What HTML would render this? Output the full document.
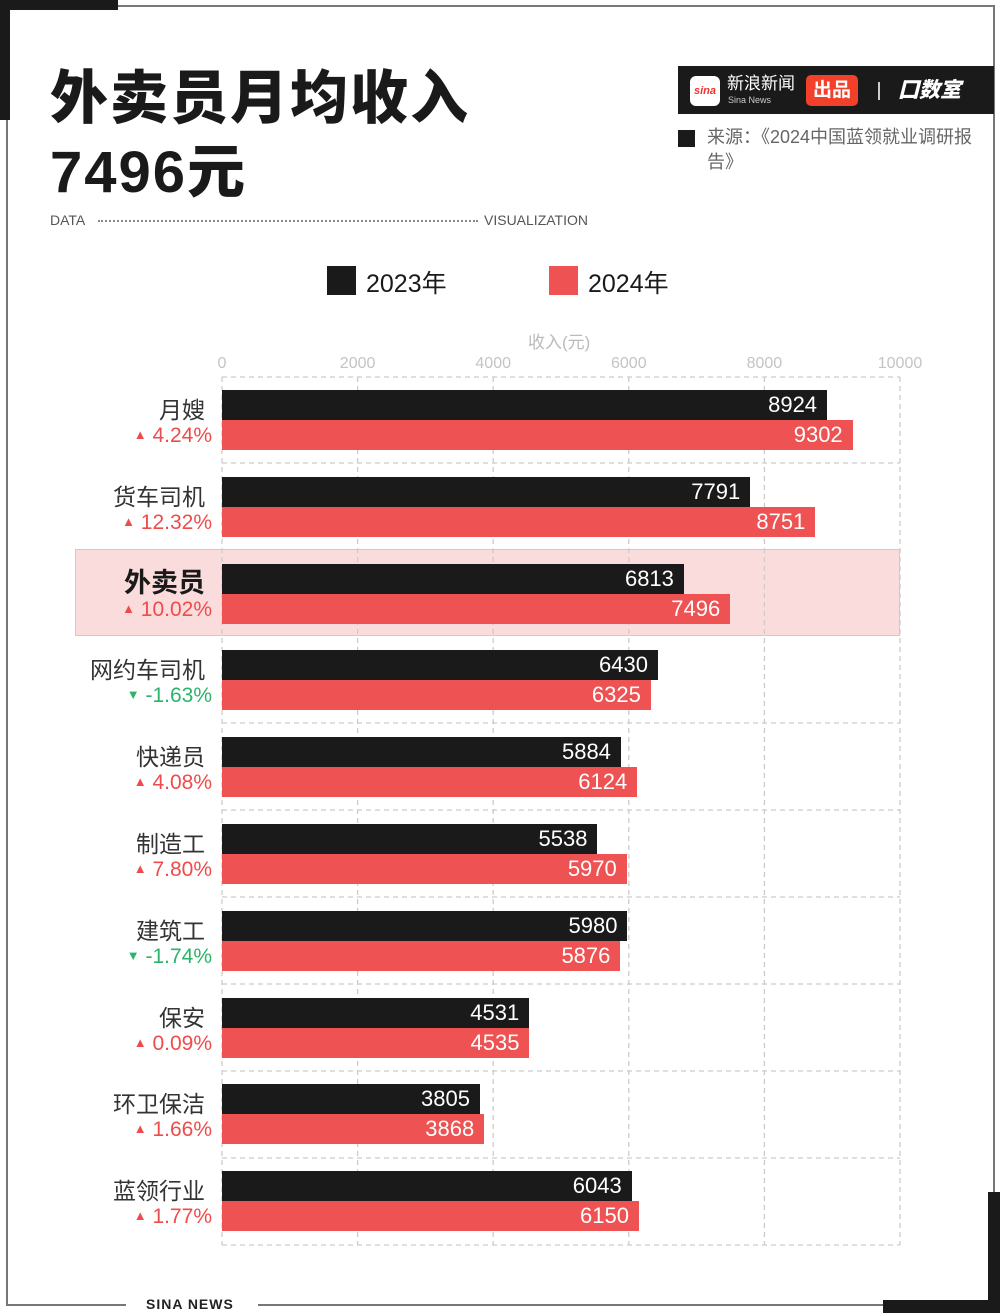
<!DOCTYPE html>
<html><head><meta charset="utf-8"><style>
body{margin:0;width:1000px;height:1313px;background:#fff;position:relative;overflow:hidden;font-family:"Liberation Sans","Noto Sans CJK SC",sans-serif;}
.a{position:absolute}
.cat{position:absolute;right:795px;font-size:23px;color:#333;white-space:nowrap;text-align:right}
.pct{position:absolute;right:788px;font-size:21px;white-space:nowrap;text-align:right}
.bar{position:absolute;left:222px;height:30px}
.val{position:absolute;right:10px;top:1px;color:#fff;font-size:22px;line-height:28px}
</style></head><body>
<!-- frame -->
<div class="a" style="left:115px;top:5px;width:880px;height:2px;background:#777"></div>
<div class="a" style="left:6px;top:110px;width:2px;height:1196px;background:#777"></div>
<div class="a" style="left:993px;top:5px;width:2px;height:1190px;background:#777"></div>
<div class="a" style="left:6px;top:1304px;width:120px;height:2px;background:#777"></div>
<div class="a" style="left:258px;top:1304px;width:630px;height:2px;background:#777"></div>
<div class="a" style="left:0;top:0;width:118px;height:10px;background:#1a1a1a"></div>
<div class="a" style="left:0;top:0;width:10px;height:120px;background:#1a1a1a"></div>
<div class="a" style="left:988px;top:1192px;width:12px;height:121px;background:#1a1a1a"></div>
<div class="a" style="left:883px;top:1300px;width:117px;height:13px;background:#1a1a1a"></div>
<div class="a" style="left:146px;top:1296px;font-size:14px;font-weight:bold;color:#222;letter-spacing:1px">SINA NEWS</div>
<!-- title -->
<div class="a" style="left:50px;top:62px;font-size:58px;font-weight:900;color:#1a1a1a;line-height:74px;letter-spacing:2px">外卖员月均收入<br>7496元</div>
<div class="a" style="left:50px;top:212px;font-size:14px;color:#555">DATA</div>
<div class="a" style="left:98px;top:220px;width:380px;border-top:2px dotted #888"></div>
<div class="a" style="left:484px;top:212px;font-size:14px;color:#555">VISUALIZATION</div>
<!-- logo -->
<div class="a" style="left:678px;top:66px;width:316px;height:48px;background:#1a1a1a"></div>
<div class="a" style="left:690px;top:76px;width:30px;height:30px;background:#fff;border-radius:6px;color:#e33;font-size:11px;font-style:italic;font-weight:bold;text-align:center;line-height:30px">sina</div>
<div class="a" style="left:727px;top:74px;color:#fff;font-size:17px;line-height:20px">新浪新闻</div>
<div class="a" style="left:728px;top:95px;color:#ccc;font-size:9px">Sina News</div>
<div class="a" style="left:806px;top:75px;width:52px;height:31px;background:#f2402a;border-radius:5px;color:#fff;font-size:19px;font-weight:bold;text-align:center;line-height:31px">出品</div>
<div class="a" style="left:878px;top:82px;width:2px;height:18px;background:#ccc"></div>
<div class="a" style="left:898px;top:74px;color:#fff;font-size:21px;font-weight:900;font-style:italic">囗数室</div>
<div class="a" style="left:678px;top:130px;width:17px;height:17px;background:#1a1a1a"></div>
<div class="a" style="left:707px;top:125px;width:280px;font-size:18px;color:#666;line-height:25px">来源：《2024中国蓝领就业调研报告》</div>
<!-- legend -->
<div class="a" style="left:327px;top:266px;width:29px;height:29px;background:#1a1a1a"></div>
<div class="a" style="left:366px;top:264px;font-size:25px;color:#1a1a1a">2023年</div>
<div class="a" style="left:549px;top:266px;width:29px;height:29px;background:#ee5252"></div>
<div class="a" style="left:588px;top:264px;font-size:25px;color:#1a1a1a">2024年</div>
<div class="a" style="left:528px;top:328px;font-size:17px;color:#bbb">收入(元)</div>
<!-- highlight -->
<div class="a" style="left:75px;top:549px;width:825px;height:87px;background:#fbdcdc;border:1px solid #f3bcbc;box-sizing:border-box"></div>
<svg class="a" style="left:0;top:0" width="1000" height="1313">
<g stroke="#ccc" stroke-width="1.3" stroke-dasharray="5,4" fill="none">
<line x1="222" y1="377" x2="222" y2="1245"/><line x1="357.6" y1="377" x2="357.6" y2="1245"/><line x1="493.2" y1="377" x2="493.2" y2="1245"/><line x1="628.8" y1="377" x2="628.8" y2="1245"/><line x1="764.4" y1="377" x2="764.4" y2="1245"/><line x1="900" y1="377" x2="900" y2="1245"/>
<line x1="222" y1="377" x2="900" y2="377"/><line x1="222" y1="1245" x2="900" y2="1245"/>
<line x1="222" y1="463" x2="900" y2="463"/><line x1="222" y1="723" x2="900" y2="723"/><line x1="222" y1="810" x2="900" y2="810"/><line x1="222" y1="897" x2="900" y2="897"/><line x1="222" y1="984" x2="900" y2="984"/><line x1="222" y1="1071" x2="900" y2="1071"/><line x1="222" y1="1158" x2="900" y2="1158"/>
</g>
<g fill="#c4c4c4" font-size="16" text-anchor="middle" font-family="Liberation Sans">
<text x="222" y="368">0</text><text x="357.6" y="368">2000</text><text x="493.2" y="368">4000</text><text x="628.8" y="368">6000</text><text x="764.4" y="368">8000</text><text x="900" y="368">10000</text></g>
</svg>
<div id="rows"></div>
<script>
var d=[["月嫂",8924,9302,"4.24%",1],["货车司机",7791,8751,"12.32%",1],["外卖员",6813,7496,"10.02%",1],["网约车司机",6430,6325,"-1.63%",0],["快递员",5884,6124,"4.08%",1],["制造工",5538,5970,"7.80%",1],["建筑工",5980,5876,"-1.74%",0],["保安",4531,4535,"0.09%",1],["环卫保洁",3805,3868,"1.66%",1],["蓝领行业",6043,6150,"1.77%",1]];
var h="";
d.forEach(function(r,i){var y=390+i*86.8;var s=0.0678;
var bold=i==2?"font-weight:bold;font-size:27px;color:#1a1a1a;":"";
h+='<div class="cat" style="top:'+(y+1+(i==2?-4:0))+'px;'+bold+'">'+r[0]+'</div>';
var c=r[4]?"#ee4c4c":"#2db36b";var ar=r[4]?"▲":"▼";
h+='<div class="pct" style="top:'+(y+34)+'px;color:'+c+'"><span style="font-size:13px;vertical-align:3px">'+ar+'</span> '+r[3]+'</div>';
h+='<div class="bar" style="top:'+y+'px;width:'+(r[1]*s)+'px;background:#1a1a1a"><span class="val">'+r[1]+'</span></div>';
h+='<div class="bar" style="top:'+(y+30)+'px;width:'+(r[2]*s)+'px;background:#ee5252"><span class="val">'+r[2]+'</span></div>';});
document.getElementById("rows").innerHTML=h;
</script>
</body></html>
